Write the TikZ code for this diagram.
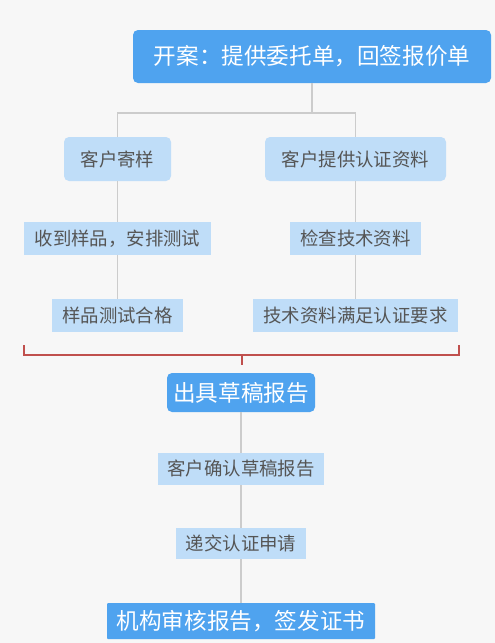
\documentclass[tikz,border=0pt]{standalone}
\usepackage{fontspec}
\newfontfamily\cjk{Noto Sans CJK SC}
\usetikzlibrary{positioning,calc}
\definecolor{headblue}{RGB}{79,163,239}
\definecolor{stepblue}{RGB}{191,221,248}
\definecolor{textgray}{RGB}{85,85,85}
\definecolor{linegray}{RGB}{204,204,204}
\definecolor{bracketred}{RGB}{192,80,77}
\definecolor{pagegray}{RGB}{247,247,247}

\begin{document}
\begin{tikzpicture}[
        x=1pt,y=-1pt,
        head/.style={fill=headblue,text=white,inner sep=0pt,
                     font=\cjk\fontsize{22.6}{22.6}\selectfont},
        grp/.style={fill=stepblue,text=textgray,rounded corners=5pt,
                    inner sep=0pt,font=\cjk\fontsize{18.4}{18.4}\selectfont},
        stepbox/.style={fill=stepblue,text=textgray,inner sep=0pt,
                        font=\cjk\fontsize{18.4}{18.4}\selectfont},
        link/.style={draw=linegray,line width=1.2pt},
        brace/.style={draw=bracketred,line width=1.2pt},
      ]
        \fill[pagegray](0,0) rectangle (495,643);
        \useasboundingbox (0,0) rectangle (495,643);
        % start
        \node[head,rounded corners=5pt,minimum width=358pt,minimum height=53pt]
            (open) at (312,56.5){开案：提供委托单，回签报价单};
        % two branches
        \node[grp,minimum width=107pt,minimum height=44pt](sample) at (117.5,159){客户寄样};
        \node[grp,minimum width=181pt,minimum height=44pt](docs) at (355.5,159){客户提供认证资料};
        \node[stepbox,minimum width=187pt,minimum height=33pt](recv) at (117.5,238.5){收到样品，安排测试};
        \node[stepbox,minimum width=131pt,minimum height=33pt](check) at (355.5,238.5){检查技术资料};
        \node[stepbox,minimum width=131pt,minimum height=33pt](pass) at (117.5,315.5){样品测试合格};
        \node[stepbox,minimum width=205pt,minimum height=33pt](meet) at (355.5,315.5){技术资料满足认证要求};
        % merge
        \node[head,rounded corners=5pt,minimum width=148pt,minimum height=39pt]
            (draft) at (241,392.5){出具草稿报告};
        \node[stepbox,minimum width=166pt,minimum height=32pt](confirm) at (241,469){客户确认草稿报告};
        \node[stepbox,minimum width=130pt,minimum height=31pt](submit) at (241,543.5){递交认证申请};
        \node[head,rounded corners=1pt,minimum width=268pt,minimum height=36pt]
            (cert) at (241,621){机构审核报告，签发证书};

        \coordinate (split) at (312,113);
        \coordinate (brl) at (24,345);
        \coordinate (brr) at (459,345);
        \coordinate (brm) at (242,355);
        \coordinate (join) at (242,365);

        \draw[link](open)--(split);
        \draw[link](sample.north)|-(split)-|(docs.north);
        \draw[link](sample)--(recv);
        \draw[link](recv)--(pass);
        \draw[link](docs)--(check);
        \draw[link](check)--(meet);
        \draw[brace](brl)--(brl|-brm)--(brr|-brm)--(brr);
        \draw[brace](brm)--(join);
        \draw[link](draft)--(confirm);
        \draw[link](confirm)--(submit);
        \draw[link](submit)--(cert);
      \end{tikzpicture}
\end{document}
